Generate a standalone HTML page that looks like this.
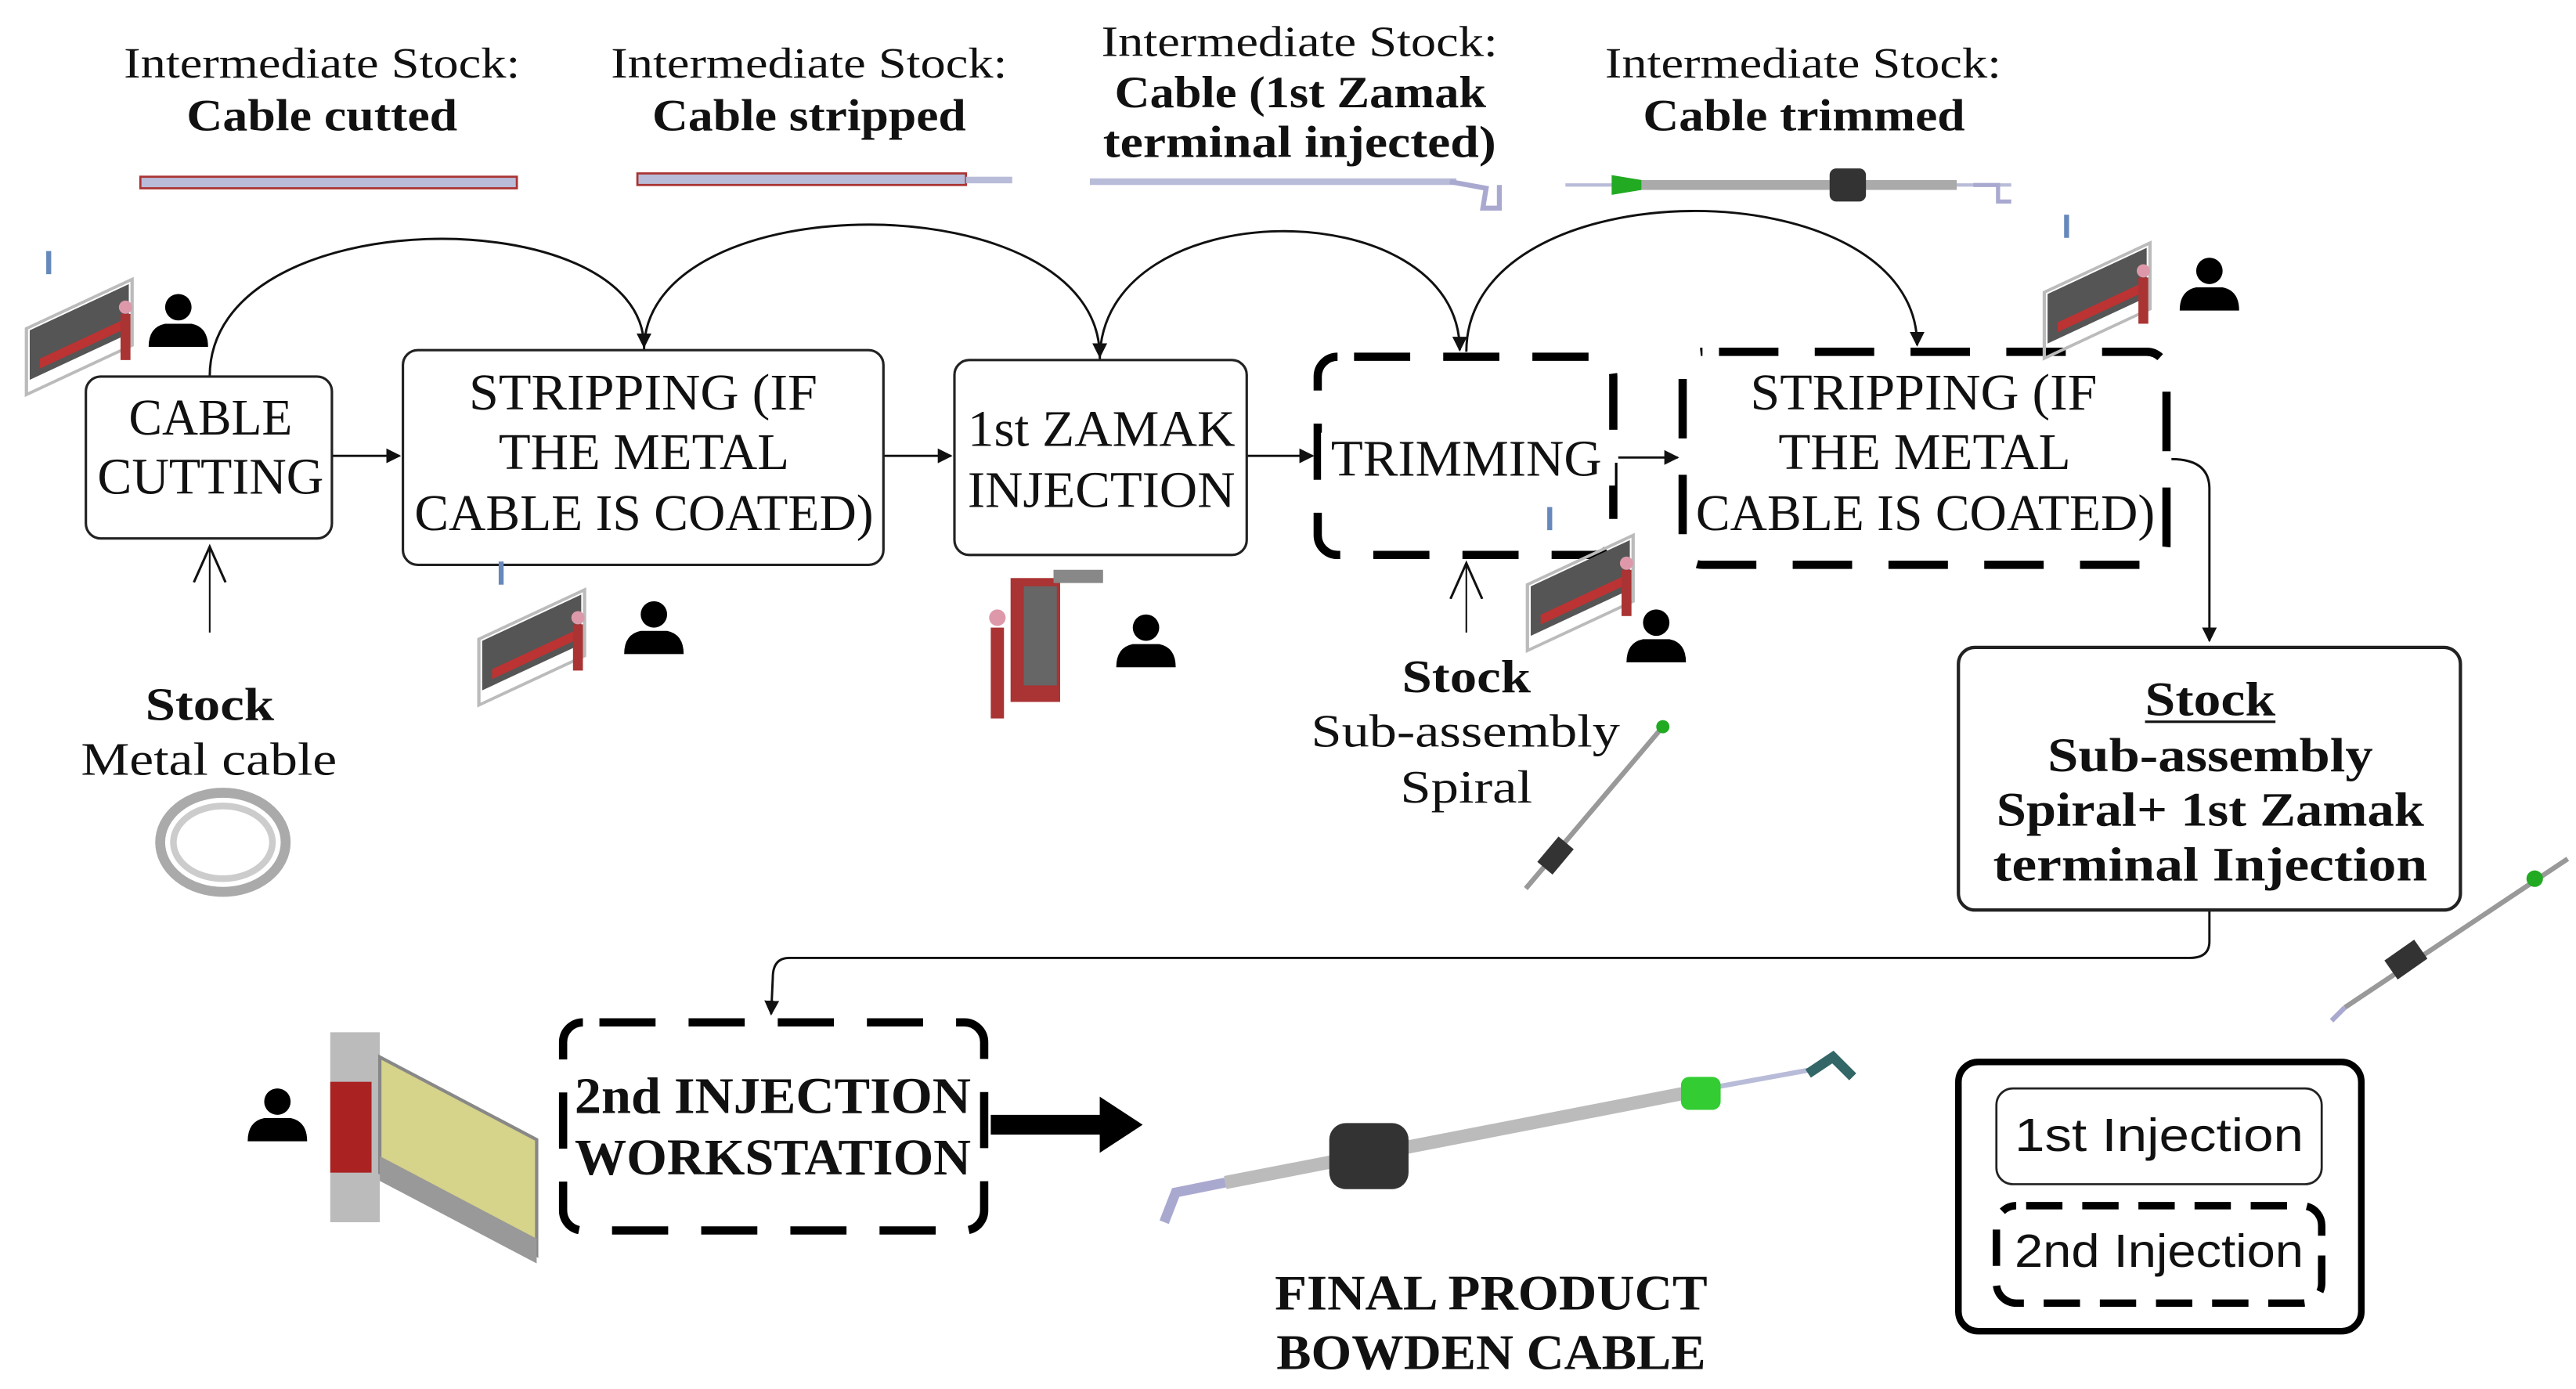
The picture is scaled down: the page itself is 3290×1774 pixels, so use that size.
<!DOCTYPE html>
<html><head><meta charset="utf-8"><style>
html,body{margin:0;padding:0;background:#fff;}
svg{display:block;}
.s{font-family:"Liberation Serif","DejaVu Serif",serif;fill:#111;}
.b{font-weight:bold;}
.sans{font-family:"Liberation Sans",sans-serif;fill:#111;}
</style></head><body>
<svg width="3290" height="1774" viewBox="0 0 1560 841" preserveAspectRatio="none" xmlns="http://www.w3.org/2000/svg">
<defs>
<marker id="ah" viewBox="0 0 10 10" refX="9" refY="5" markerWidth="9" markerHeight="9" markerUnits="userSpaceOnUse" orient="auto"><path d="M0,0 L10,5 L0,10 z" fill="#111"/></marker>
<marker id="ah2" viewBox="0 0 10 10" refX="9" refY="5" markerWidth="14" markerHeight="14" markerUnits="userSpaceOnUse" orient="auto"><path d="M0,0 L10,5 L0,10 z" fill="#111"/></marker>
<marker id="oh" viewBox="0 0 10 10" refX="9" refY="5" markerWidth="24" markerHeight="24" markerUnits="userSpaceOnUse" orient="auto"><path d="M0,1 L9,5 L0,9" fill="none" stroke="#111" stroke-width="0.6"/></marker>
<g id="person"><circle cx="0" cy="-10" r="8" fill="#000"/><path d="M-18,14 Q-18,2 -8,0 L8,0 Q18,2 18,14 Z" fill="#000"/></g>
<g id="mach">
<rect x="0" y="10" width="60" height="30" fill="#555" transform="skewY(-25)"/>
<rect x="6" y="30" width="50" height="6" fill="#b33" transform="skewY(-25)"/>
<rect x="-2" y="8" width="64" height="40" fill="none" stroke="#bbb" stroke-width="2" transform="skewY(-25)"/>
<rect x="55" y="0" width="6" height="28" fill="#a33"/><circle cx="58" cy="-4" r="4" fill="#d9a"/>
<rect x="10" y="-38" width="3" height="14" fill="#68b"/>
</g>
</defs>

<!-- Top labels -->
<text class="s" x="75" y="47" font-size="26" textLength="240" lengthAdjust="spacingAndGlyphs">Intermediate Stock:</text>
<text class="s b" x="113" y="79" font-size="27" textLength="164" lengthAdjust="spacingAndGlyphs">Cable cutted</text>
<text class="s" x="370" y="47" font-size="26" textLength="240" lengthAdjust="spacingAndGlyphs">Intermediate Stock:</text>
<text class="s b" x="395" y="79" font-size="27" textLength="190" lengthAdjust="spacingAndGlyphs">Cable stripped</text>
<text class="s" x="667" y="34" font-size="26" textLength="240" lengthAdjust="spacingAndGlyphs">Intermediate Stock:</text>
<text class="s b" x="675" y="65" font-size="27" textLength="225" lengthAdjust="spacingAndGlyphs">Cable (1st Zamak</text>
<text class="s b" x="668" y="95" font-size="27" textLength="238" lengthAdjust="spacingAndGlyphs">terminal injected)</text>
<text class="s" x="972" y="47" font-size="26" textLength="240" lengthAdjust="spacingAndGlyphs">Intermediate Stock:</text>
<text class="s b" x="995" y="79" font-size="27" textLength="195" lengthAdjust="spacingAndGlyphs">Cable trimmed</text>

<!-- cables -->
<rect x="85" y="107" width="228" height="7" fill="#b8bcd8" stroke="#a33" stroke-width="1.3"/>
<rect x="386" y="105" width="199" height="7" fill="#b8bcd8" stroke="#a33" stroke-width="1.3"/>
<rect x="585" y="107" width="28" height="4" fill="#b8bcd8"/>
<rect x="660" y="108" width="222" height="4" fill="#b8bcd8"/>
<path d="M878,110 L900,114 L898,126 L908,126 L908,112" fill="none" stroke="#a9a9d0" stroke-width="3"/>
<line x1="948" y1="112" x2="1218" y2="112" stroke="#b8bcd8" stroke-width="2"/>
<rect x="985" y="109" width="200" height="6" fill="#aaa"/>
<path d="M976,106 L994,109 L994,115 L976,118 Z" fill="#2a2"/>
<rect x="1108" y="102" width="22" height="20" rx="4" fill="#333"/>
<path d="M1195,112 L1210,112 L1210,122 L1218,122" fill="none" stroke="#a9a9d0" stroke-width="2.5"/>

<!-- Arcs -->
<g fill="none" stroke="#111" stroke-width="1.4">
<path d="M127,228 C127,120 390,120 390,210" marker-end="url(#ah)"/>
<path d="M390,212 C390,110 666,110 666,216" marker-end="url(#ah)"/>
<path d="M666,218 C666,115 884,115 884,212" marker-end="url(#ah)"/>
<path d="M888,213 C888,100 1161,100 1161,209" marker-end="url(#ah)"/>
<line x1="201" y1="276" x2="242" y2="276" marker-end="url(#ah)"/>
<line x1="535" y1="276" x2="576" y2="276" marker-end="url(#ah)"/>
<line x1="755" y1="276" x2="795" y2="276" marker-end="url(#ah)"/>
<line x1="980" y1="277" x2="1016" y2="277" marker-end="url(#ah)"/>
<line x1="127" y1="383" x2="127" y2="331" stroke-width="1" marker-end="url(#oh)"/>
<line x1="888" y1="383" x2="888" y2="341" stroke-width="1" marker-end="url(#oh)"/>
<path d="M1315,278 Q1338,278 1338,296 L1338,388" marker-end="url(#ah)"/>
<path d="M1338,551 L1338,570 Q1338,580 1326,580 L478,580 Q468,580 468,592 L467,614" marker-end="url(#ah)"/>
</g>

<!-- Boxes -->
<rect x="52" y="228" width="149" height="98" rx="9" fill="#fff" stroke="#222" stroke-width="1.5"/>
<text class="s" x="78" y="263" font-size="31" textLength="99" lengthAdjust="spacingAndGlyphs">CABLE</text>
<text class="s" x="59" y="299" font-size="31" textLength="137" lengthAdjust="spacingAndGlyphs">CUTTING</text>

<rect x="244" y="212" width="291" height="130" rx="9" fill="#fff" stroke="#222" stroke-width="1.5"/>
<text class="s" x="284" y="248" font-size="31" textLength="211" lengthAdjust="spacingAndGlyphs">STRIPPING (IF</text>
<text class="s" x="302" y="284" font-size="31" textLength="176" lengthAdjust="spacingAndGlyphs">THE METAL</text>
<text class="s" x="251" y="321" font-size="31" textLength="278" lengthAdjust="spacingAndGlyphs">CABLE IS COATED)</text>

<rect x="578" y="218" width="177" height="118" rx="9" fill="#fff" stroke="#222" stroke-width="1.5"/>
<text class="s" x="586" y="270" font-size="31" textLength="162" lengthAdjust="spacingAndGlyphs">1st ZAMAK</text>
<text class="s" x="586" y="307" font-size="31" textLength="162" lengthAdjust="spacingAndGlyphs">INJECTION</text>

<rect x="798" y="216" width="179" height="120" rx="12" fill="#fff" stroke="#000" stroke-width="5" stroke-dasharray="34,20" stroke-dashoffset="-10"/>
<rect x="800" y="262" width="178" height="32" fill="#fff"/>
<text class="s" x="806" y="288" font-size="31" textLength="164" lengthAdjust="spacingAndGlyphs">TRIMMING</text>

<rect x="1019" y="213" width="293" height="129" rx="12" fill="#fff" stroke="#000" stroke-width="5" stroke-dasharray="36,22" stroke-dashoffset="-10"/>
<text class="s" x="1060" y="248" font-size="31" textLength="210" lengthAdjust="spacingAndGlyphs">STRIPPING (IF</text>
<text class="s" x="1077" y="284" font-size="31" textLength="177" lengthAdjust="spacingAndGlyphs">THE METAL</text>
<text class="s" x="1027" y="321" font-size="31" textLength="278" lengthAdjust="spacingAndGlyphs">CABLE IS COATED)</text>

<!-- Stock texts -->
<text class="s b" x="88" y="436" font-size="28" textLength="78" lengthAdjust="spacingAndGlyphs">Stock</text>
<text class="s" x="49" y="469" font-size="28" textLength="155" lengthAdjust="spacingAndGlyphs">Metal cable</text>
<ellipse cx="135" cy="510" rx="38" ry="30" fill="none" stroke="#aaa" stroke-width="6"/>
<ellipse cx="135" cy="510" rx="30" ry="22" fill="none" stroke="#ccc" stroke-width="4"/>

<text class="s b" x="849" y="419" font-size="28" textLength="78" lengthAdjust="spacingAndGlyphs">Stock</text>
<text class="s" x="794" y="452" font-size="28" textLength="187" lengthAdjust="spacingAndGlyphs">Sub-assembly</text>
<text class="s" x="848" y="486" font-size="28" textLength="80" lengthAdjust="spacingAndGlyphs">Spiral</text>
<line x1="924" y1="538" x2="1007" y2="440" stroke="#999" stroke-width="3"/>
<circle cx="1007" cy="440" r="4" fill="#2a2"/>
<rect x="936" y="508" width="12" height="20" fill="#333" transform="rotate(40 942 518)"/>

<rect x="1186" y="392" width="304" height="159" rx="10" fill="#fff" stroke="#222" stroke-width="2"/>
<text class="s b" x="1299" y="433" font-size="29" textLength="79" lengthAdjust="spacingAndGlyphs">Stock</text>
<line x1="1299" y1="437" x2="1378" y2="437" stroke="#111" stroke-width="1.5"/>
<text class="s b" x="1240" y="467" font-size="29" textLength="197" lengthAdjust="spacingAndGlyphs">Sub-assembly</text>
<text class="s b" x="1209" y="500" font-size="29" textLength="259" lengthAdjust="spacingAndGlyphs">Spiral+ 1st Zamak</text>
<text class="s b" x="1207" y="533" font-size="29" textLength="263" lengthAdjust="spacingAndGlyphs">terminal Injection</text>
<line x1="1420" y1="610" x2="1555" y2="520" stroke="#999" stroke-width="3"/>
<circle cx="1535" cy="532" r="5" fill="#2a2"/>
<rect x="1450" y="570" width="14" height="22" fill="#333" transform="rotate(55 1457 581)"/>
<path d="M1420,610 L1412,618" stroke="#a9a9d0" stroke-width="3"/>

<!-- 2nd injection -->
<rect x="341" y="619" width="255" height="126" rx="12" fill="#fff" stroke="#000" stroke-width="5" stroke-dasharray="34,20" stroke-dashoffset="-10"/>
<text class="s b" x="348" y="674" font-size="31" textLength="240" lengthAdjust="spacingAndGlyphs">2nd INJECTION</text>
<text class="s b" x="348" y="711" font-size="31" textLength="240" lengthAdjust="spacingAndGlyphs">WORKSTATION</text>
<line x1="600" y1="681" x2="668" y2="681" stroke="#000" stroke-width="12"/>
<path d="M666,664 L692,681 L666,698 Z" fill="#000"/>

<!-- final product -->
<line x1="742" y1="716" x2="1030" y2="660" stroke="#bbb" stroke-width="8"/>
<line x1="1040" y1="658" x2="1095" y2="648" stroke="#b8bcd8" stroke-width="3"/>
<path d="M742,716 L712,722 L705,740" fill="none" stroke="#a9a9d0" stroke-width="6"/>
<rect x="805" y="680" width="48" height="40" rx="10" fill="#333"/>
<rect x="1018" y="652" width="24" height="20" rx="5" fill="#3c3"/>
<path d="M1095,650 L1110,640 L1122,652" fill="none" stroke="#366" stroke-width="6"/>
<text class="s b" x="772" y="793" font-size="30" textLength="262" lengthAdjust="spacingAndGlyphs">FINAL PRODUCT</text>
<text class="s b" x="773" y="829" font-size="30" textLength="260" lengthAdjust="spacingAndGlyphs">BOWDEN CABLE</text>

<!-- legend -->
<rect x="1186" y="643" width="244" height="163" rx="12" fill="#fff" stroke="#000" stroke-width="4"/>
<rect x="1209" y="659" width="197" height="58" rx="10" fill="#fff" stroke="#222" stroke-width="1.3"/>
<text class="sans" x="1220" y="697" font-size="28" textLength="175" lengthAdjust="spacingAndGlyphs">1st  Injection</text>
<rect x="1209" y="730" width="197" height="59" rx="12" fill="#fff" stroke="#000" stroke-width="4.5" stroke-dasharray="22,12" stroke-dashoffset="-6"/>
<text class="sans" x="1220" y="767" font-size="28" textLength="175" lengthAdjust="spacingAndGlyphs">2nd Injection</text>

<!-- persons -->
<use href="#person" x="108" y="196"/>
<use href="#person" x="396" y="382"/>
<use href="#person" x="694" y="390"/>
<use href="#person" x="1003" y="387"/>
<use href="#person" x="1338" y="174"/>
<use href="#person" x="168" y="677"/>

<!-- machines -->
<use href="#mach" x="18" y="190"/>
<use href="#mach" x="292" y="378"/>
<use href="#mach" x="927" y="345"/>
<use href="#mach" x="1240" y="168"/>
<g>
<rect x="612" y="350" width="30" height="75" fill="#a33"/>
<rect x="620" y="355" width="20" height="60" fill="#666"/>
<rect x="638" y="345" width="30" height="8" fill="#888"/>
<rect x="600" y="380" width="8" height="55" fill="#a33"/>
<circle cx="604" cy="374" r="5" fill="#d9a"/>
</g>
<g>
<rect x="200" y="625" width="30" height="115" fill="#bbb"/>
<rect x="200" y="655" width="25" height="55" fill="#a22"/>
<path d="M230,640 L325,690 L325,760 L230,710 Z" fill="#d6d38a" stroke="#888" stroke-width="2"/>
<path d="M230,700 L325,750 L325,765 L230,715 Z" fill="#999"/>
</g>
</svg>
</body></html>
